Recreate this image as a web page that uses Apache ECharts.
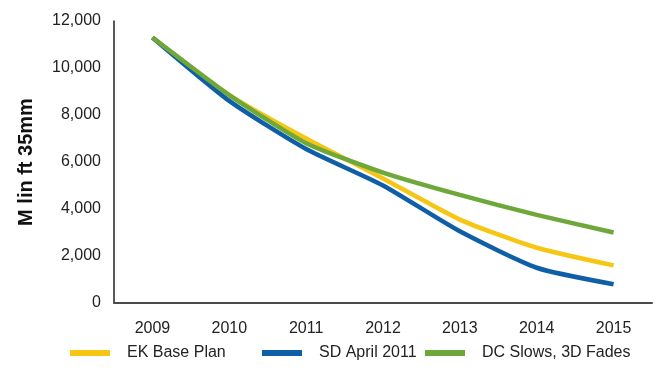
<!DOCTYPE html>
<html>
<head>
<meta charset="utf-8">
<script src="https://cdn.jsdelivr.net/npm/echarts@6/dist/echarts.min.js"></script>
<style>
  html, body { margin: 0; padding: 0; background: #ffffff; }
  #chart { width: 663px; height: 371px; }
</style>
</head>
<body>
<div id="chart"></div>
<script>
// Years on the category axis
const years = ['2009', '2010', '2011', '2012', '2013', '2014', '2015'];

// Footage scenarios, millions of linear feet of 35mm film
const ekBasePlan = [11300, 8850, 7000, 5300, 3550, 2350, 1600];
const sdApril2011 = [11300, 8600, 6550, 5000, 3050, 1500, 800];
const dcSlows3dFades = [11300, 8850, 6800, 5550, 4600, 3750, 3000];

// Value axis ticks
const yMin = 0;
const yMax = 12000;
const yStep = 2000;

const seriesNames = ['EK Base Plan', 'SD April 2011', 'DC Slows, 3D Fades'];
const seriesColors = ['#F6C614', '#0F5FA6', '#6EA83A'];
const seriesData = [ekBasePlan, sdApril2011, dcSlows3dFades];

const FONT = '"Liberation Sans", Arial, sans-serif';

const chart = echarts.init(document.getElementById('chart'), null, { renderer: 'canvas' });

function legendFor(name, left) {
  return {
    data: [name],
    left: left,
    top: 345,
    icon: 'rect',
    itemWidth: 40,
    itemHeight: 6,
    padding: 0,
    selectedMode: false,
    textStyle: {
      fontFamily: FONT,
      fontSize: 16,
      color: '#222222',
      padding: [0, 0, 0, 12]
    }
  };
}

chart.setOption({
  backgroundColor: '#ffffff',
  animation: false,
  grid: { left: 114, top: 21, right: 11, bottom: 68, containLabel: false },
  legend: [
    legendFor(seriesNames[0], 70),
    legendFor(seriesNames[1], 262),
    legendFor(seriesNames[2], 425)
  ],
  xAxis: {
    type: 'category',
    data: years,
    boundaryGap: true,
    axisLine: { lineStyle: { color: '#4a4a4a', width: 2 } },
    axisTick: { show: false },
    axisLabel: { fontFamily: FONT, fontSize: 16, color: '#222222', margin: 18 }
  },
  yAxis: {
    type: 'value',
    min: yMin,
    max: yMax,
    interval: yStep,
    name: 'M lin ft 35mm',
    nameLocation: 'middle',
    nameGap: 78,
    nameRotate: 90,
    nameTextStyle: { fontFamily: FONT, fontSize: 20, fontWeight: 'bold', color: '#111111' },
    splitLine: { show: false },
    axisLine: { show: true, lineStyle: { color: '#222222', width: 1.5 } },
    axisTick: { show: false },
    axisLabel: {
      fontFamily: FONT,
      fontSize: 16,
      color: '#222222',
      margin: 13,
      formatter: v => v.toLocaleString('en-US')
    }
  },
  series: seriesData.map((d, i) => ({
    name: seriesNames[i],
    type: 'line',
    data: d,
    smooth: 0.2,
    symbol: 'none',
    color: seriesColors[i],
    lineStyle: { width: 4.5, color: seriesColors[i] },
    z: 2 + i
  }))
});
</script>
</body>
</html>
